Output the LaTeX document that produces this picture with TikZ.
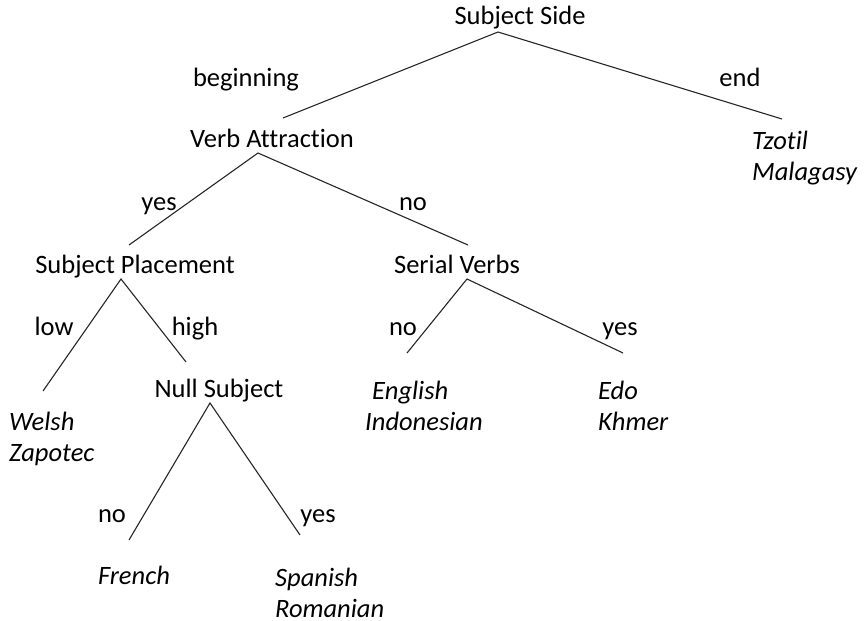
\documentclass[tikz,border=0pt]{standalone}
\usepackage{fontspec}
\setmainfont[Ligatures={NoCommon}]{Carlito}
\begin{document}
\begin{tikzpicture}[x=1pt,y=-1pt,
  lbl/.style={inner sep=0pt,anchor=base,font=\fontsize{26.5}{31}\selectfont},
  leaf/.style={inner sep=0pt,align=left,font=\fontsize{26.5}{31}\selectfont\itshape},
  edge/.style={draw=black!85,line width=1.1pt}]
\useasboundingbox[fill=white] (0,0) rectangle (865,621);
% nodes
\node[lbl] (ss) at (520,24) {Subject Side};
\node[lbl] (beg) at (246,86) {beginning};
\node[lbl] (endl) at (740,86) {end};
\node[lbl] (va) at (272,147) {Verb Attraction};
\node[leaf,anchor=west] (tz) at (752,158) {Tzotil\\Malagasy};
\node[lbl] (yes1) at (159,210) {yes};
\node[lbl] (no1) at (413,210) {no};
\node[lbl] (sp) at (135,273) {Subject Placement};
\node[lbl] (sv) at (457,273) {Serial Verbs};
\node[lbl] (low) at (54,335) {low};
\node[lbl] (high) at (195,335) {high};
\node[lbl] (no2) at (403,335) {no};
\node[lbl] (yes2) at (620,335) {yes};
\node[lbl] (ns) at (219,397) {Null Subject};
\node[leaf,anchor=west] (we) at (9,439) {Welsh\\Zapotec};
\node[leaf,anchor=west] (en) at (365,406) {\hspace{7pt}English\\Indonesian};
\node[leaf,anchor=west] (edo) at (598,406) {Edo\\Khmer};
\node[lbl] (no3) at (112,522) {no};
\node[lbl] (yes3) at (318,522) {yes};
\node[leaf,anchor=base] (fr) at (134,584) {French};
\node[leaf,anchor=west] (spn) at (275,593) {Spanish\\Romanian};
% connector points
\coordinate (ssA) at (498,32);
\coordinate (ssL) at (283,118);
\coordinate (ssR) at (782,119);
\coordinate (vaA) at (258,153);
\coordinate (vaL) at (129,245);
\coordinate (vaR) at (468,245);
\coordinate (spA) at (121,279);
\coordinate (spL) at (43,391);
\coordinate (spR) at (186,362);
\coordinate (svA) at (467,279);
\coordinate (svL) at (407,353);
\coordinate (svR) at (623,353);
\coordinate (nsA) at (210,403);
\coordinate (nsL) at (129,540);
\coordinate (nsR) at (300,535);
% connectors
\draw[edge] (ssL) -- (ssA) -- (ssR);
\draw[edge] (vaL) -- (vaA) -- (vaR);
\draw[edge] (spL) -- (spA) -- (spR);
\draw[edge] (svL) -- (svA) -- (svR);
\draw[edge] (nsL) -- (nsA) -- (nsR);
\end{tikzpicture}
\end{document}
